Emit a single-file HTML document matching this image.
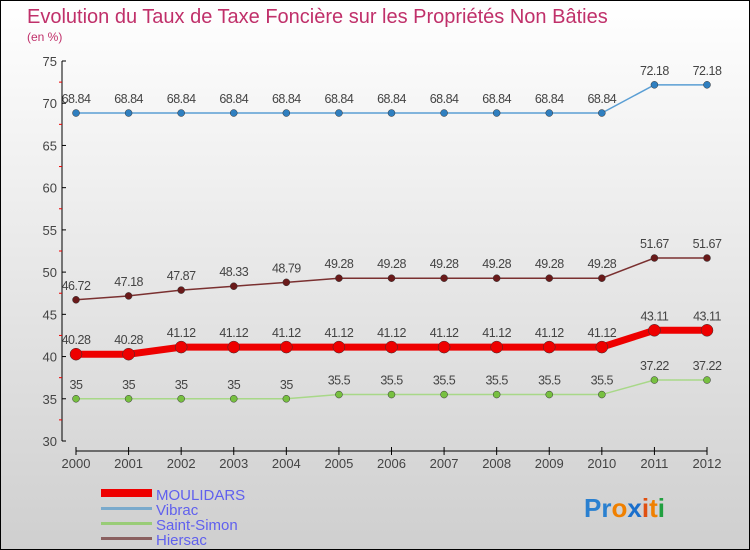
<!DOCTYPE html>
<html><head><meta charset="utf-8"><style>
body{margin:0;}
#c{width:750px;height:550px;position:relative;overflow:hidden;box-sizing:border-box;border:1px solid #000;background:linear-gradient(#ffffff,#cfcfcf);font-family:"Liberation Sans",sans-serif;}
</style></head><body>
<div id="c">
<svg id="s" width="750" height="550" style="position:absolute;left:0;top:0">
<text x="26" y="22" font-size="20" fill="#c0306a" font-weight="300">Evolution du Taux de Taxe Foncière sur les Propriétés Non Bâties</text>
<text x="26" y="40" font-size="12" fill="#c0306a">(en %)</text>
<g id="g"></g>
<g>
<rect x="100" y="488" width="51" height="8" fill="#ee0000"/>
<text x="155" y="499" font-size="15" fill="#6060ee">MOULIDARS</text>
<rect x="100" y="506" width="51" height="3" fill="#7aaacc"/>
<text x="155" y="514" font-size="15" fill="#6060ee">Vibrac</text>
<rect x="100" y="521" width="51" height="3" fill="#99cc77"/>
<text x="155" y="529" font-size="15" fill="#6060ee">Saint-Simon</text>
<rect x="100" y="536" width="51" height="3" fill="#8a6060"/>
<text x="155" y="544" font-size="15" fill="#6060ee">Hiersac</text>
</g>
<text x="583" y="516" font-size="26" font-weight="bold"><tspan fill="#2a80d0">Pr</tspan><tspan fill="#f08000">o</tspan><tspan fill="#1a6fcc">x</tspan><tspan fill="#e05010">i</tspan><tspan fill="#f08000">t</tspan><tspan fill="#22a040">i</tspan></text>
</svg>
</div>
<script>
const years=["2000","2001","2002","2003","2004","2005","2006","2007","2008","2009","2010","2011","2012"];
const moulidars=[40.28,40.28,41.12,41.12,41.12,41.12,41.12,41.12,41.12,41.12,41.12,43.11,43.11];
const vibrac=[68.84,68.84,68.84,68.84,68.84,68.84,68.84,68.84,68.84,68.84,68.84,72.18,72.18];
const saintSimon=[35,35,35,35,35,35.5,35.5,35.5,35.5,35.5,35.5,37.22,37.22];
const hiersac=[46.72,47.18,47.87,48.33,48.79,49.28,49.28,49.28,49.28,49.28,49.28,51.67,51.67];
const yTicks=[30,35,40,45,50,55,60,65,70,75];
const NS="http://www.w3.org/2000/svg";
const g=document.getElementById('g');
const X=i=>75+i*(706-75)/(years.length-1);
const Y=v=>60+(75-v)*380/45;
function el(t,a){const e=document.createElementNS(NS,t);for(const k in a)e.setAttribute(k,a[k]);g.appendChild(e);return e;}
let e=el('line',{x1:61,y1:60,x2:61,y2:440,stroke:'#000'});


e=el('line',{x1:75,y1:450,x2:706,y2:450,stroke:'#000'});


yTicks.forEach((v,i)=>{
  el('line',{x1:61,y1:Y(v),x2:65,y2:Y(v),stroke:'#000'});
  if(i<yTicks.length-1)el('line',{x1:58,y1:Y(v+2.5),x2:61,y2:Y(v+2.5),stroke:'#e00'});
  const t=el('text',{x:56,y:Y(v)+5,'font-size':13,fill:'#444','text-anchor':'end'});
  t.textContent=v;
  
  
});
years.forEach((y,i)=>{
  el('line',{x1:X(i),y1:446,x2:X(i),y2:454,stroke:'#000'});
  const t=el('text',{x:X(i),y:467,'font-size':13,fill:'#444','text-anchor':'middle'});
  t.textContent=y;
  
  
});
function series(vals,name,line,dot,w,r){
  const p=el('polyline',{points:vals.map((v,i)=>X(i)+','+Y(v)).join(' '),fill:'none',stroke:line,'stroke-width':w});
  
  
  vals.forEach((v,i)=>{
    const c=el('circle',{cx:X(i),cy:Y(v),r:r,fill:dot,stroke:'#333','stroke-width':0.5});
    
    
    const t=el('text',{x:X(i),y:Y(v)-10,'font-size':12.5,fill:'#444','text-anchor':'middle','letter-spacing':'-0.5'});
    t.textContent=v;
    
    
  });
}
series(vibrac,'vibrac','#5a9ed4','#2f7fc0',1.5,3.5);
series(hiersac,'hiersac','#7a3030','#6a1a1a',1.5,3.5);
series(saintSimon,'saint-simon','#a8d888','#77c040',1.5,3.5);
series(moulidars,'moulidars','#ee0000','#ee0000',7,6);
</script>
</body></html>
